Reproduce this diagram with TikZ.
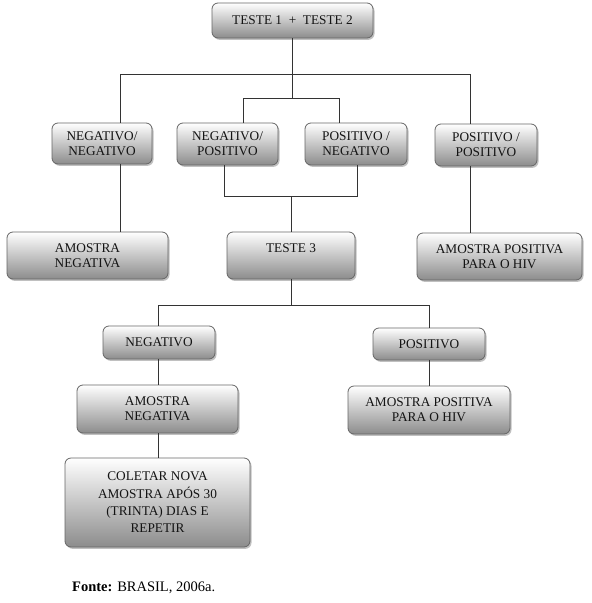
\documentclass[tikz,border=0pt]{standalone}
\usepackage{fontspec}
\setmainfont{Liberation Serif}
\usetikzlibrary{shadows}
\begin{document}
\begin{tikzpicture}[x=1pt,y=-1pt,
  box/.style={draw=black!60, line width=0.8pt, rounded corners=6pt,
    top color=white, bottom color=black!45,
    drop shadow={shadow xshift=1.5pt, shadow yshift=-1.8pt, opacity=0.35, fill=black!70},
    align=center, inner sep=0pt, text=black!92,
    font=\fontsize{13.3}{15.3}\selectfont},
  conn/.style={draw=black!80, line width=0.9pt}]
\useasboundingbox (0,0) rectangle (592,603);
\fill[white] (0,0) rectangle (592,603);

\node[box, minimum width=161pt, minimum height=35pt] (top) at (292.5,20.5) {TESTE 1\ \ +\ \ TESTE 2};
\node[box, minimum width=100pt, minimum height=41pt] (nn) at (102,143.5) {NEGATIVO/\\NEGATIVO};
\node[box, minimum width=101pt, minimum height=42pt] (np) at (227.5,144) {NEGATIVO/\\POSITIVO};
\node[box, minimum width=102pt, minimum height=42pt] (pn) at (356,144) {POSITIVO /\\NEGATIVO};
\node[box, minimum width=102pt, minimum height=42pt] (pp) at (486,145) {POSITIVO /\\POSITIVO};
\node[box, minimum width=161pt, minimum height=47pt] (an1) at (87.5,255.5) {AMOSTRA\\NEGATIVA};
\node[box, minimum width=128pt, minimum height=47pt] (t3) at (291,255.5) {TESTE 3\\\mbox{}};
\node[box, minimum width=165pt, minimum height=47pt] (ap1) at (499.5,256.5) {AMOSTRA POSITIVA\\PARA O HIV};
\node[box, minimum width=112pt, minimum height=33pt] (neg) at (159,342.5) {NEGATIVO};
\node[box, minimum width=112pt, minimum height=32pt] (pos) at (429,344) {POSITIVO};
\node[box, minimum width=161pt, minimum height=48pt] (an2) at (157.5,409) {AMOSTRA\\NEGATIVA};
\node[box, minimum width=162pt, minimum height=48pt] (ap2) at (429,410) {AMOSTRA POSITIVA\\PARA O HIV};
\node[box, minimum width=185pt, minimum height=89pt, font=\fontsize{13.3}{17.3}\selectfont] (col) at (157.5,502.5) {COLETAR NOVA\\AMOSTRA APÓS 30\\(TRINTA) DIAS E\\REPETIR};

\node[anchor=base west, inner sep=0pt, text=black, font=\fontsize{14.5}{17}\selectfont] (fonte) at (72,591) {\textbf{Fonte:} BRASIL, 2006a.};

% junction coordinates
\coordinate (j0) at (292.5,74);
\coordinate (jl) at (120,74);
\coordinate (jr) at (470,74);
\coordinate (k0) at (292.5,98);
\coordinate (kl) at (243,98);
\coordinate (kr) at (339,98);
\coordinate (m0) at (291,196);
\coordinate (ml) at (224,196);
\coordinate (mr) at (357,196);
\coordinate (n0) at (291,305);
\coordinate (nl) at (158,305);
\coordinate (nr) at (429,305);

\draw[conn] (top.south -| j0) -- (k0);
\draw[conn] (jl) -- (jr);
\draw[conn] (jl) -- (nn.north -| jl);
\draw[conn] (jr) -- (pp.north -| jr);
\draw[conn] (kl) -- (kr);
\draw[conn] (kl) -- (np.north -| kl);
\draw[conn] (kr) -- (pn.north -| kr);
\draw[conn] (nn.south -| jl) -- (an1.north -| jl);
\draw[conn] (pp.south -| jr) -- (ap1.north -| jr);
\draw[conn] (np.south -| ml) -- (ml) -- (mr) -- (pn.south -| mr);
\draw[conn] (m0) -- (t3.north -| m0);
\draw[conn] (t3.south -| n0) -- (n0);
\draw[conn] (nl) -- (nr);
\draw[conn] (nl) -- (neg.north -| nl);
\draw[conn] (nr) -- (pos.north -| nr);
\draw[conn] (neg.south -| nl) -- (an2.north -| nl);
\draw[conn] (pos.south -| nr) -- (ap2.north -| nr);
\draw[conn] (an2.south -| nl) -- (col.north -| nl);
\end{tikzpicture}
\end{document}
